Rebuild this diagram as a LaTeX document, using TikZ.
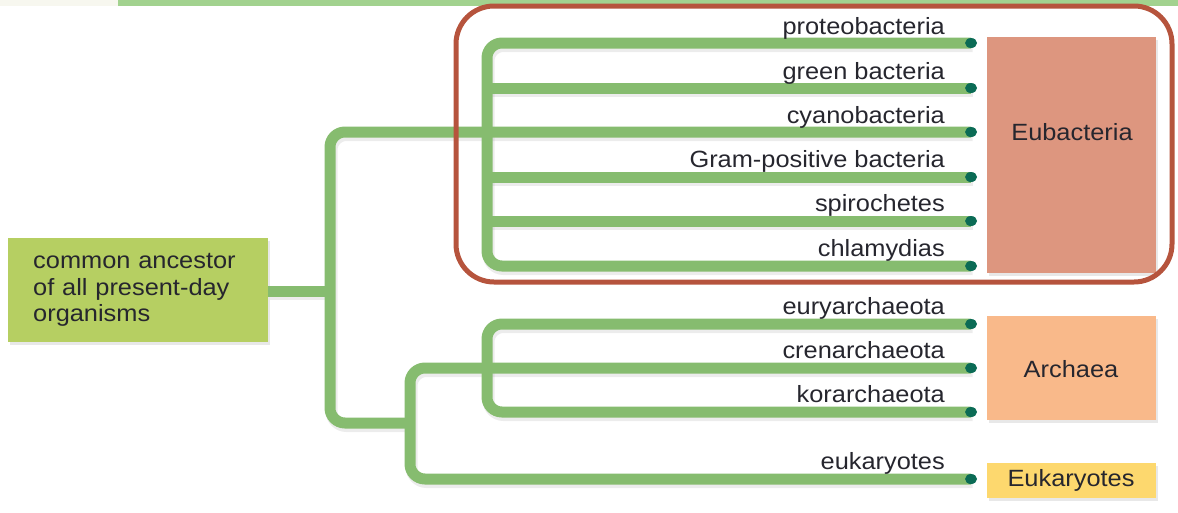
\documentclass[tikz,border=0pt]{standalone}
\usepackage{fontspec}
\setmainfont{Liberation Sans}[FakeStretch=1.08]
\usetikzlibrary{shadows}
\definecolor{txt}{HTML}{26262E}
\definecolor{branchgreen}{HTML}{86BC6F}
\definecolor{stripgreen}{HTML}{A2D28F}
\definecolor{stripbeige}{HTML}{F7F7EF}
\definecolor{ancfill}{HTML}{B6CF62}
\definecolor{eubfill}{HTML}{DD967F}
\definecolor{arcfill}{HTML}{F9B98A}
\definecolor{eukfill}{HTML}{FDD86E}
\definecolor{frame}{HTML}{B6543D}
\definecolor{dotcol}{HTML}{0B6B55}
\tikzset{
  branch/.style={draw=branchgreen, line width=11pt, rounded corners=15pt},
  branchshadow/.style={draw=black!60, opacity=0.12, line width=12pt, rounded corners=15pt,
    transform canvas={shift={(1.5,3)}}},
  leafdot/.style={ellipse, fill=dotcol, inner sep=0pt, minimum width=12pt, minimum height=10pt},
  leaflabel/.style={anchor=base east, text=txt, inner sep=0pt, font=\fontsize{23.5}{26}\selectfont},
  groupbox/.style={anchor=north west, inner sep=0pt, draw=none,
    drop shadow={shadow xshift=2pt, shadow yshift=-3pt, opacity=0.18}},
  grouptext/.style={text=txt, inner sep=0pt, font=\fontsize{23.5}{26}\selectfont}
}
\usetikzlibrary{shapes.geometric}
\def\drawallbranches#1{%
  \draw[#1] (p1) -- (etop) -- (ebot) -- (p6);
  \draw[#1] (e2) -- (p2);
  \draw[#1] (e4) -- (p4);
  \draw[#1] (e5) -- (p5);
  \draw[#1] (p3) -- (rtop) -- (rbot) -- (lmid);
  \draw[#1, rounded corners=0pt] (anc.east |- rmid) -- (rmid);
  \draw[#1] (p8) -- (ltop) -- (lbot) -- (p10);
  \draw[#1] (p7) -- (atop) -- (abot) -- (p9);
}
\begin{document}
\begin{tikzpicture}[x=1pt,y=-1pt]
\useasboundingbox (0,0) rectangle (1178,512);
% top strip
\fill[stripbeige] (0,0) rectangle (118,6);
\fill[stripgreen] (118,0) rectangle (1178,6);
% group boxes
\node[groupbox, fill=eubfill, minimum width=169pt, minimum height=236pt] (eub) at (987,37) {};
\node[groupbox, fill=arcfill, minimum width=169pt, minimum height=104pt] (arc) at (987,316) {};
\node[groupbox, fill=eukfill, minimum width=169pt, minimum height=35pt] (euk) at (987,463) {};
\node[grouptext] (eubtxt) at (1072,132) {Eubacteria};
\node[grouptext] (arctxt) at (1071,369) {Archaea};
\node[grouptext] (euktxt) at (1071,480) {Eukaryotes};
% ancestor box
\node[groupbox, fill=ancfill, minimum width=259pt, minimum height=104pt, text width=210pt,
  inner xsep=25pt, align=left, text=txt, font=\fontsize{23.5}{26.5}\selectfont] (anc) at (8,238)
  {common ancestor\\of all present-day\\organisms};
% leaf points
\foreach \n/\y in {1/43,2/88,3/132,4/177,5/221,6/266,7/324,8/368,9/412,10/479}{
  \coordinate (p\n) at (971,\y);
}
% junction coordinates
\coordinate (etop) at (487,43);
\coordinate (ebot) at (487,266);
\coordinate (e2) at (487,88);
\coordinate (e4) at (487,177);
\coordinate (e5) at (487,221);
\coordinate (rtop) at (330,132);
\coordinate (rmid) at (330,291);
\coordinate (rbot) at (330,423);
\coordinate (lmid) at (410,423);
\coordinate (ltop) at (410,368);
\coordinate (lbot) at (410,479);
\coordinate (atop) at (487,324);
\coordinate (abot) at (487,412);
% branches: shadows first, then lines
\drawallbranches{branchshadow}
\drawallbranches{branch}
% dots
\foreach \n in {1,...,10}{ \node[leafdot] (d\n) at (p\n) {}; }
% labels
\node[leaflabel] (l1) at (945,34) {proteobacteria};
\node[leaflabel] (l2) at (945,79) {green bacteria};
\node[leaflabel] (l3) at (945,123) {cyanobacteria};
\node[leaflabel] (l4) at (945,167) {Gram-positive bacteria};
\node[leaflabel] (l5) at (945,211) {spirochetes};
\node[leaflabel] (l6) at (945,256) {chlamydias};
\node[leaflabel] (l7) at (945,314) {euryarchaeota};
\node[leaflabel] (l8) at (945,358) {crenarchaeota};
\node[leaflabel] (l9) at (945,402) {korarchaeota};
\node[leaflabel] (l10) at (945,469) {eukaryotes};
% red frame
\draw[frame, line width=5pt, rounded corners=38pt] (456,6) rectangle (1172,282);
\end{tikzpicture}
\end{document}
